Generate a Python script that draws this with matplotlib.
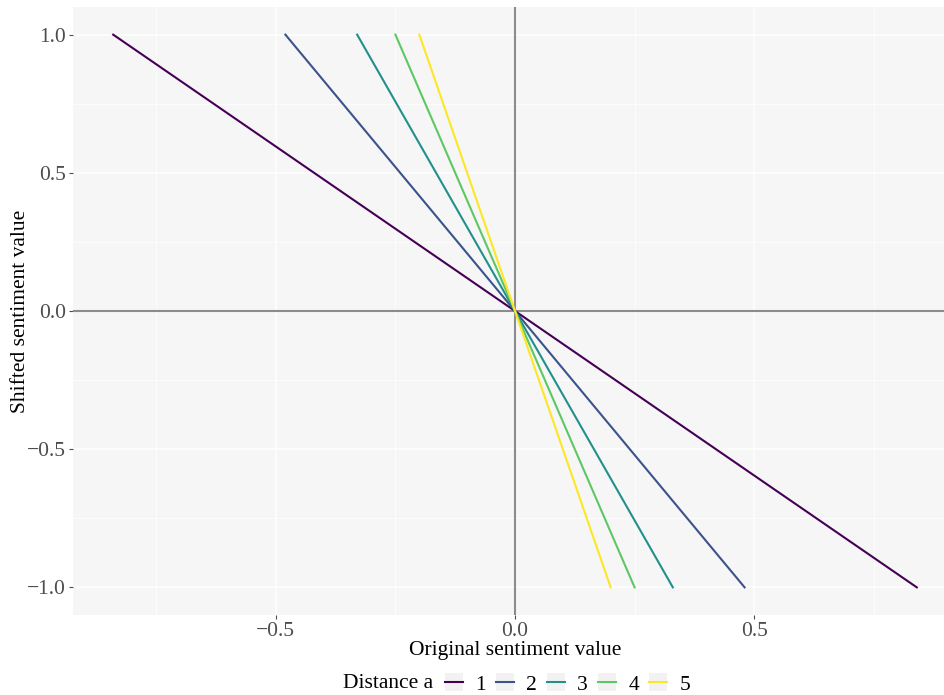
import numpy as np
import matplotlib.pyplot as plt
from matplotlib.patches import Rectangle
from matplotlib.lines import Line2D
from matplotlib.legend_handler import HandlerTuple

plt.rcParams['font.family'] = ['Liberation Serif', 'DejaVu Serif']

# distance a and the sentiment values
distances = ['1', '2', '3', '4', '5']
x_at_pos1 = [-0.84, -0.48, -0.33, -0.25, -0.20]   # original value where shifted = 1
x_at_zero = [0.0, 0.0, 0.0, 0.0, 0.0]
x_at_neg1 = [0.84, 0.48, 0.33, 0.25, 0.20]        # original value where shifted = -1
y_vals = [1.0, 0.0, -1.0]
colors = ['#440154', '#3B528B', '#21908C', '#5DC863', '#FDE725']

fig = plt.figure(figsize=(9.45, 6.95), dpi=100)
# panel runs a little past the right edge of the picture, like the original
ax = fig.add_axes([73/945, 1 - 615/695, 884/945, 608/695])
ax.set_facecolor('#F6F6F6')
for s in ax.spines.values():
    s.set_visible(False)

ax.set_xticks([-0.5, 0.0, 0.5])
ax.set_yticks([-1.0, -0.5, 0.0, 0.5, 1.0])
ax.set_xticks([-0.75, -0.25, 0.25, 0.75], minor=True)
ax.set_yticks([-0.75, -0.25, 0.25, 0.75], minor=True)
ax.set_xticklabels(['\u22120.5', '0.0', '0.5'])
ax.set_yticklabels(['\u22121.0', '\u22120.5', '0.0', '0.5', '1.0'])
ax.grid(True, which='major', color='white', lw=1.1)
ax.grid(True, which='minor', color='white', lw=0.55)
ax.set_axisbelow(True)
ax.tick_params(which='major', length=3, color='#4D4D4D', labelcolor='#4D4D4D',
               labelsize=15.5, pad=2)
ax.tick_params(which='minor', length=0)

ax.axhline(0, color='#8C8C8C', lw=1.5, zorder=1.5)
ax.axvline(0, color='#8C8C8C', lw=1.5, zorder=1.5)

handles = []
for i in range(len(distances)):
    ax.plot([x_at_pos1[i], x_at_zero[i], x_at_neg1[i]], y_vals,
            color=colors[i], lw=1.5, zorder=2)
    handles.append((Rectangle((0, 0), 1, 1, facecolor='#F2F2F2', edgecolor='none'),
                    Line2D([], [], color=colors[i], lw=1.5)))

ax.set_xlim(-0.924, 0.924)
ax.set_ylim(-1.1, 1.1)
ax.set_xlabel('Original sentiment value', fontsize=15.5, labelpad=0)
ax.set_ylabel('Shifted sentiment value', fontsize=15.5, labelpad=-2)

fig.text(433/945, 1 - 684/695, 'Distance a', fontsize=15.5, ha='right', va='center')
fig.legend(handles, distances, handler_map={tuple: HandlerTuple(ndivide=1)},
           loc='center left', bbox_to_anchor=(445/945, 1 - 684/695), ncol=5,
           frameon=False, fontsize=15.5, handlelength=0.85, handleheight=0.85,
           handletextpad=0.56, columnspacing=0.46, borderaxespad=0, borderpad=0)

fig.savefig('out.png', dpi=100)
